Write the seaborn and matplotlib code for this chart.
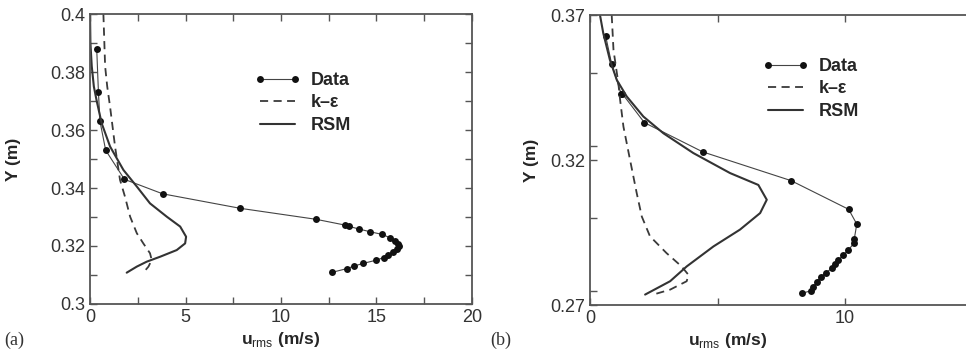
import matplotlib
matplotlib.use("Agg")
import matplotlib.pyplot as plt
from matplotlib.ticker import MultipleLocator, FixedLocator
from matplotlib.lines import Line2D
import seaborn as sns

# ---- panel (a) profiles ----
a_data_u = [0.35, 0.44, 0.52, 0.82, 1.8, 3.8, 7.86, 11.84, 13.36, 13.54, 14.06, 14.67,
            15.3, 15.72, 15.95, 16.1, 16.16, 16.08, 15.85, 15.6, 15.37, 14.98, 14.3,
            13.83, 13.45, 12.66]
a_data_y = [0.388, 0.373, 0.363, 0.353, 0.343, 0.338, 0.333, 0.3292, 0.3272, 0.3268,
            0.3259, 0.3249, 0.324, 0.3228, 0.3216, 0.3207, 0.3199, 0.3189, 0.3178,
            0.3169, 0.316, 0.3151, 0.314, 0.3131, 0.3122, 0.3109]
a_ke_u = [0.7, 0.75, 0.79, 0.9, 1.05, 1.31, 1.57, 1.83, 2.1, 2.45, 2.79, 3.14, 3.23, 3.06, 2.79]
a_ke_y = [0.4, 0.39, 0.382, 0.375, 0.368, 0.3543, 0.3428, 0.337, 0.3301, 0.3244, 0.3209,
          0.3175, 0.3152, 0.3129, 0.3108]
a_rsm_u = [0.0, 0.02, 0.09, 0.2, 0.35, 0.61, 1.05, 1.75, 2.45, 3.14, 4.02, 4.72, 5.03,
           4.98, 4.54, 3.67, 2.97, 2.45, 1.92]
a_rsm_y = [0.4, 0.39, 0.382, 0.375, 0.37, 0.3623, 0.3543, 0.3462, 0.3405, 0.3347, 0.3301,
           0.3267, 0.3232, 0.3209, 0.3186, 0.3163, 0.3146, 0.3129, 0.3108]

# ---- panel (b) profiles ----
b_data_u = [0.61, 0.85, 1.22, 1.27, 2.13, 4.42, 7.88, 10.14, 10.46, 10.36, 10.35, 10.13,
            9.93, 9.74, 9.61, 9.48, 9.25, 9.05, 8.89, 8.76, 8.65, 8.3]
b_data_y = [0.3629, 0.353, 0.3428, 0.3428, 0.3329, 0.3228, 0.3129, 0.303, 0.2979, 0.2927,
            0.2913, 0.289, 0.2872, 0.2855, 0.2841, 0.2827, 0.2811, 0.2798, 0.278, 0.2763,
            0.2749, 0.274]
b_ke_u = [0.85, 0.92, 1.11, 1.18, 1.31, 1.57, 1.83, 2.03, 2.35, 3.0, 3.59, 3.86, 3.79, 3.14, 2.48]
b_ke_y = [0.37, 0.3579, 0.3465, 0.3407, 0.3315, 0.32, 0.3086, 0.3005, 0.2937, 0.2879,
          0.2833, 0.2804, 0.2782, 0.2753, 0.2736]
b_rsm_u = [0.39, 0.52, 0.78, 1.05, 1.44, 2.09, 2.88, 4.05, 5.49, 6.6, 6.93, 6.67, 5.88,
           4.84, 3.79, 3.14, 2.16]
b_rsm_y = [0.37, 0.3637, 0.3545, 0.3476, 0.3419, 0.335, 0.3292, 0.3224, 0.3155, 0.3114,
           0.3063, 0.3017, 0.296, 0.2902, 0.2833, 0.2782, 0.2736]

series_labels = ["Data", "k\u2013\u03b5", "RSM"]
panel_tags = ["(a)", "(b)"]

sns.set_style("ticks")
plt.rcParams["font.family"] = ["Liberation Sans", "DejaVu Sans"]
plt.rcParams["mathtext.fontset"] = "custom"
plt.rcParams["mathtext.rm"] = "Liberation Sans"
plt.rcParams["mathtext.bf"] = "Liberation Sans:bold"

fig = plt.figure(figsize=(9.66, 3.61), dpi=100)
ax_a = fig.add_axes([0.0932, 0.1579, 0.3954, 0.8033])
ax_b = fig.add_axes([0.6108, 0.1551, 0.528, 0.8033])

DATA_STYLE = dict(color="#444444", linewidth=0.8, marker="o", markersize=5,
                  markeredgewidth=0, markerfacecolor="#111111")
KE_STYLE = dict(color="#3a3a3a", linewidth=1.3, linestyle=(0, (4.5, 3)))
RSM_STYLE = dict(color="#333333", linewidth=1.5)


def draw_panel(ax, du, dy, ku, ky, ru, ry):
    sns.lineplot(x=du, y=dy, ax=ax, sort=False, estimator=None, **DATA_STYLE)
    sns.lineplot(x=ku, y=ky, ax=ax, sort=False, estimator=None, **KE_STYLE)
    sns.lineplot(x=ru, y=ry, ax=ax, sort=False, estimator=None, **RSM_STYLE)
    for s in ax.spines.values():
        s.set_visible(True)
        s.set_linewidth(1.3)
        s.set_color("#555555")
    ax.tick_params(which="both", direction="in", top=True, right=True,
                   color="#555555", labelsize=13, labelcolor="#333333",
                   length=5, width=1)
    ax.set_xlabel(r"$\mathbf{u}_{\mathrm{rms}}$ (m/s)", fontsize=12.5, fontweight="bold")
    ax.set_ylabel("Y (m)", fontsize=12.5, fontweight="bold")


draw_panel(ax_a, a_data_u, a_data_y, a_ke_u, a_ke_y, a_rsm_u, a_rsm_y)
ax_a.set_xlim(0, 20)
ax_a.set_ylim(0.3, 0.4)
ax_a.set_xticks([0, 5, 10, 15, 20], ["0", "5", "10", "15", "20"])
ax_a.set_yticks([0.3, 0.32, 0.34, 0.36, 0.38, 0.4],
                ["0.3", "0.32", "0.34", "0.36", "0.38", "0.4"])
ax_a.xaxis.set_minor_locator(MultipleLocator(2.5))
ax_a.yaxis.set_minor_locator(MultipleLocator(0.01))
ax_a.xaxis.set_label_coords(0.5, -0.09)
ax_a.yaxis.set_label_coords(-0.18, 0.5)

draw_panel(ax_b, b_data_u, b_data_y, b_ke_u, b_ke_y, b_rsm_u, b_rsm_y)
ax_b.set_xlim(0, 20)
ax_b.set_ylim(0.27, 0.37)
ax_b.set_xticks([0, 10], ["0", "10"])
ax_b.xaxis.set_minor_locator(FixedLocator([5, 15, 20]))
ax_b.set_yticks([0.27, 0.32, 0.37], ["0.27", "0.32", "0.37"])
ax_b.yaxis.set_minor_locator(MultipleLocator(0.025))
ax_b.xaxis.set_label_coords(0.27, -0.09)
ax_b.yaxis.set_label_coords(-0.1, 0.5)

handles = [Line2D([], [], **DATA_STYLE), Line2D([], [], **KE_STYLE),
           Line2D([], [], **RSM_STYLE)]
for ax, anchor in [(ax_a, (255 / 966, 1 - 72 / 361)), (ax_b, (763 / 966, 1 - 58 / 361))]:
    ax.legend(handles, series_labels, loc="upper left", bbox_to_anchor=anchor,
              bbox_transform=fig.transFigure, frameon=False, numpoints=2,
              handlelength=2.5, handletextpad=0.6, labelspacing=0.3,
              borderpad=0, borderaxespad=0,
              prop={"weight": "bold", "size": 13})

fig.text(4 / 966, 1 - 340 / 361, panel_tags[0], family="Liberation Serif", fontsize=13,
         va="center", ha="left", color="#333333")
fig.text(490 / 966, 1 - 340 / 361, panel_tags[1], family="Liberation Serif", fontsize=13,
         va="center", ha="left", color="#333333")

fig.savefig("out.png", dpi=100)
